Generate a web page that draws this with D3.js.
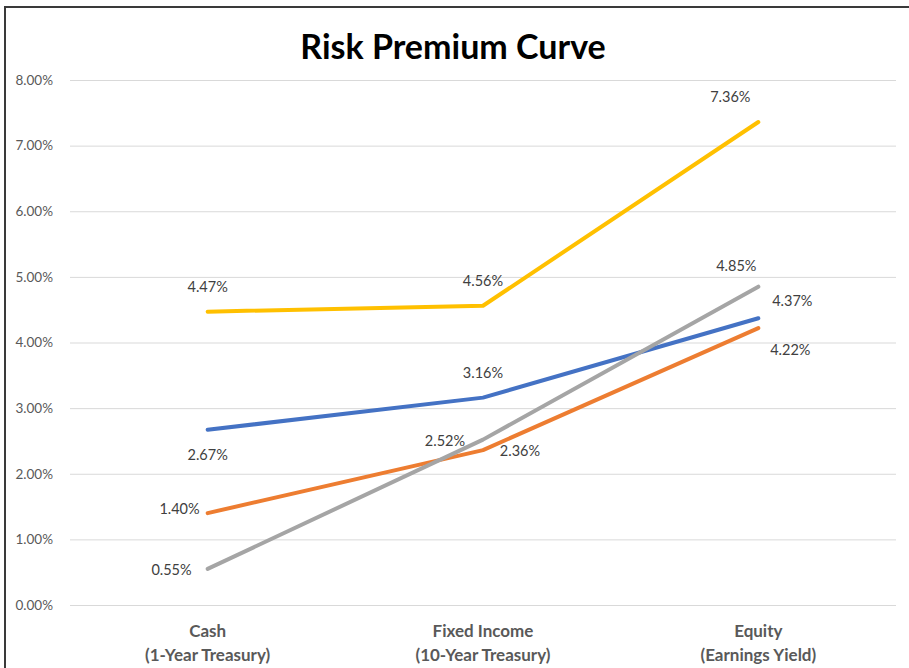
<!DOCTYPE html>
<html>
<head>
<meta charset="utf-8">
<script src="https://cdn.jsdelivr.net/npm/d3@7"></script>
<style>
  body { margin: 0; background: #fff; }
  text { font-family: Lato, "Open Sans", sans-serif; }
</style>
</head>
<body>
<script>
// Chart size and plot area
const SVG_DIM = { W: 909, H: 668 };
const PLOT = { LEFT: 70, RIGHT: 896, TOP: 80, BOTTOM: 605 };

// Data
const categories = [
  ["Cash", "(1-Year Treasury)"],
  ["Fixed Income", "(10-Year Treasury)"],
  ["Equity", "(Earnings Yield)"]
];
const yellowValues = [4.47, 4.56, 7.36];
const blueValues = [2.67, 3.16, 4.37];
const orangeValues = [1.40, 2.36, 4.22];
const grayValues = [0.55, 2.52, 4.85];
const yTicks = [0, 1, 2, 3, 4, 5, 6, 7, 8];

// Series styling and data label placement (dx, dy, anchor) per point
const series = [
  { values: yellowValues, color: "#FFC000",
    labels: [[0, -25, "middle"], [0, -25, "middle"], [-28, -25, "middle"]] },
  { values: blueValues, color: "#4472C4",
    labels: [[0, 25, "middle"], [0, -25, "middle"], [34, -17, "middle"]] },
  { values: orangeValues, color: "#ED7D31",
    labels: [[-8, -4, "end"], [37, 1, "middle"], [32, 22, "middle"]] },
  { values: grayValues, color: "#A5A5A5",
    labels: [[-16, 1, "end"], [-38, 1, "middle"], [-22, -21, "middle"]] }
];

const svg = d3.select("body").append("svg")
  .attr("width", SVG_DIM.W)
  .attr("height", SVG_DIM.H);

// Chart border (cut off on the right and bottom like the original)
svg.append("rect")
  .attr("x", 5).attr("y", 7)
  .attr("width", SVG_DIM.W + 20).attr("height", SVG_DIM.H + 20)
  .attr("fill", "none")
  .attr("stroke", "#3a3a3a")
  .attr("stroke-width", 2);

// Title
svg.append("text")
  .text("Risk Premium Curve")
  .attr("x", 453)
  .attr("y", 59)
  .attr("text-anchor", "middle")
  .attr("font-size", "34px")
  .attr("font-weight", "700")
  .attr("fill", "#000");

const x = d3.scalePoint()
  .domain(d3.range(categories.length))
  .range([PLOT.LEFT, PLOT.RIGHT])
  .padding(0.5);

const y = d3.scaleLinear()
  .domain([0, 8])
  .range([PLOT.BOTTOM, PLOT.TOP]);

// Gridlines + y labels
const yAxis = d3.axisLeft(y)
  .tickValues(yTicks)
  .tickSize(-(PLOT.RIGHT - PLOT.LEFT))
  .tickPadding(17)
  .tickFormat(d => d.toFixed(2) + "%");

const yG = svg.append("g")
  .attr("transform", `translate(${PLOT.LEFT},0)`)
  .call(yAxis);
yG.select(".domain").remove();
yG.selectAll(".tick line").attr("stroke", "#d9d9d9").attr("stroke-width", 1);
yG.selectAll(".tick text")
  .attr("fill", "#595959")
  .attr("font-size", "13.5px")
  .attr("font-family", "Lato, sans-serif");

// Category labels
const xG = svg.append("g");
categories.forEach((lines, i) => {
  const t = xG.append("text")
    .attr("x", x(i))
    .attr("y", 637)
    .attr("text-anchor", "middle")
    .attr("font-size", "17px")
    .attr("font-weight", "700")
    .attr("fill", "#595959");
  lines.forEach((ln, j) => {
    t.append("tspan").attr("x", x(i)).attr("dy", j === 0 ? 0 : 24).text(ln);
  });
});

// Lines
const line = d3.line()
  .x((d, i) => x(i))
  .y(d => y(d));

series.forEach(s => {
  svg.append("path")
    .datum(s.values)
    .attr("d", line)
    .attr("fill", "none")
    .attr("stroke", s.color)
    .attr("stroke-width", 4)
    .attr("stroke-linecap", "round")
    .attr("stroke-linejoin", "round");
});

// Data labels
series.forEach(s => {
  svg.append("g").selectAll("text")
    .data(s.values)
    .join("text")
    .attr("x", (d, i) => x(i) + s.labels[i][0])
    .attr("y", (d, i) => y(d) + s.labels[i][1])
    .attr("dy", "0.35em")
    .attr("text-anchor", (d, i) => s.labels[i][2])
    .attr("font-size", "14.5px")
    .attr("fill", "#404040")
    .text(d => d.toFixed(2) + "%");
});
</script>
</body>
</html>
